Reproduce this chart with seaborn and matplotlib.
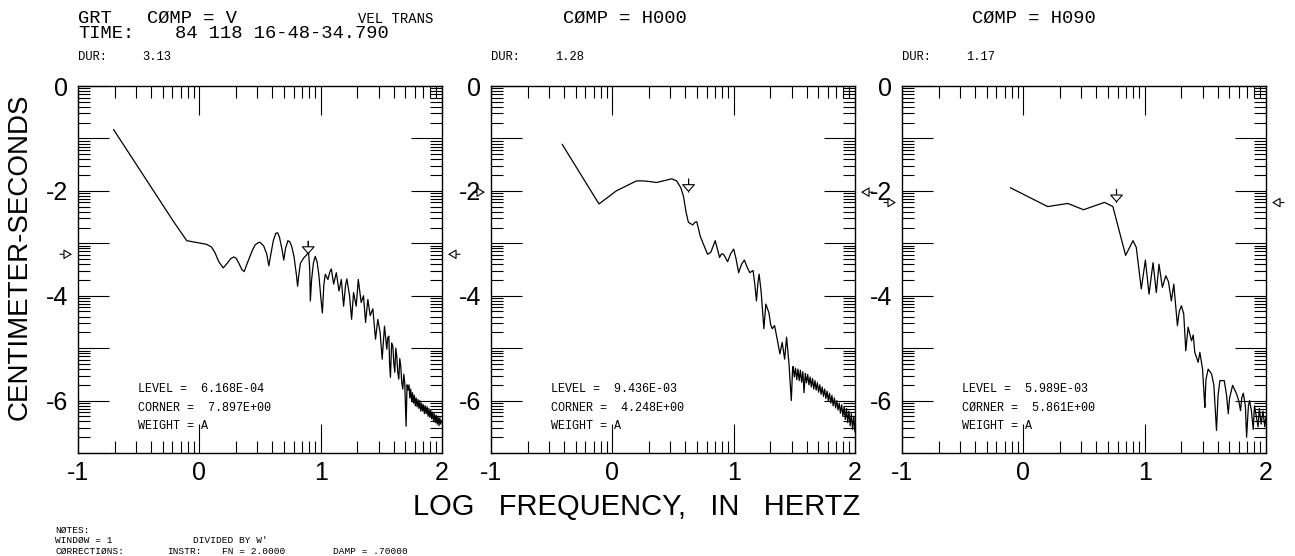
import numpy as np
import pandas as pd
import matplotlib
matplotlib.use("Agg")
import matplotlib.pyplot as plt
import seaborn as sns

# ---- spectra: (log10 frequency [Hz], log10 amplitude [cm*s]) ----
V_SPECTRUM = [
    (-0.707, -0.83), (-0.214, -2.58), (-0.104, -2.95), (0.06, -3.02), (0.10, -3.07),
    (0.129, -3.18), (0.16, -3.35), (0.197, -3.47), (0.23, -3.38), (0.26, -3.29),
    (0.285, -3.26), (0.305, -3.29), (0.33, -3.40), (0.35, -3.50), (0.37, -3.54),
    (0.40, -3.35), (0.44, -3.12), (0.46, -3.03), (0.485, -2.99), (0.50, -2.98),
    (0.53, -3.05), (0.555, -3.20), (0.573, -3.43), (0.59, -3.20), (0.61, -2.95),
    (0.63, -2.81), (0.645, -2.80), (0.66, -2.88), (0.68, -3.10), (0.696, -3.32),
    (0.71, -3.10), (0.73, -2.95), (0.745, -2.97), (0.76, -3.05), (0.78, -3.25),
    (0.80, -3.60), (0.81, -3.82), (0.82, -3.60), (0.833, -3.38), (0.86, -3.28),
    (0.885, -3.22), (0.90, -3.15), (0.91, -3.50), (0.915, -4.10), (0.925, -3.70),
    (0.94, -3.38), (0.955, -3.25), (0.97, -3.35), (0.985, -3.60), (1.00, -4.00),
    (1.014, -4.33), (1.026, -3.80), (1.038, -3.59), (1.06, -3.69), (1.075, -3.55),
    (1.088, -3.49), (1.107, -3.78), (1.129, -3.56), (1.151, -3.91), (1.17, -3.69),
    (1.189, -4.20), (1.205, -3.80), (1.216, -3.68), (1.238, -4.00), (1.255, -4.45),
    (1.271, -3.94), (1.293, -4.20), (1.31, -3.69), (1.334, -4.13), (1.353, -4.00),
    (1.37, -4.51), (1.389, -4.07), (1.408, -4.38), (1.43, -4.25), (1.452, -4.83),
    (1.471, -4.45), (1.49, -4.70), (1.507, -5.21), (1.526, -4.58), (1.545, -5.02),
    (1.553, -4.80), (1.562, -4.77), (1.568, -5.30), (1.575, -5.56), (1.585, -4.90),
    (1.595, -4.96), (1.603, -5.30), (1.611, -5.46), (1.619, -5.00), (1.627, -5.15),
    (1.635, -5.45), (1.644, -5.59), (1.652, -5.20), (1.66, -5.34), (1.668, -5.65),
    (1.677, -5.78), (1.685, -5.50), (1.693, -5.66), (1.704, -6.49), (1.712, -5.70),
    (1.72, -5.80), (1.728, -5.70), (1.735, -5.95), (1.742, -5.78), (1.75, -6.02),
    (1.757, -5.85), (1.765, -6.05), (1.772, -5.90), (1.78, -6.10), (1.787, -5.95),
    (1.795, -6.12), (1.802, -5.98), (1.81, -6.15), (1.817, -6.00), (1.825, -6.20),
    (1.832, -6.05), (1.84, -6.20), (1.847, -6.08), (1.855, -6.25), (1.862, -6.10),
    (1.87, -6.25), (1.877, -6.12), (1.885, -6.30), (1.892, -6.15), (1.90, -6.32),
    (1.907, -6.18), (1.915, -6.35), (1.922, -6.22), (1.93, -6.38), (1.937, -6.25),
    (1.945, -6.42), (1.952, -6.28), (1.96, -6.45), (1.967, -6.30), (1.975, -6.48),
    (1.982, -6.33), (1.99, -6.45), (1.997, -6.38),
]

H000_SPECTRUM = [
    (-0.414, -1.11), (-0.11, -2.25), (0.033, -2.00), (0.12, -1.90), (0.199, -1.81),
    (0.254, -1.81), (0.30, -1.82), (0.365, -1.84), (0.42, -1.81), (0.489, -1.77),
    (0.53, -1.81), (0.564, -1.94), (0.586, -2.10), (0.608, -2.41), (0.627, -2.60),
    (0.663, -2.65), (0.68, -2.60), (0.696, -2.59), (0.724, -2.86), (0.751, -3.02),
    (0.785, -3.21), (0.812, -3.17), (0.848, -2.95), (0.884, -3.27), (0.90, -3.20),
    (0.917, -3.21), (0.95, -3.35), (0.975, -3.20), (1.00, -3.11), (1.02, -3.30),
    (1.041, -3.56), (1.065, -3.40), (1.088, -3.32), (1.11, -3.45), (1.133, -3.56),
    (1.16, -3.52), (1.175, -3.80), (1.188, -4.10), (1.20, -3.75), (1.21, -3.59),
    (1.227, -3.94), (1.249, -4.63), (1.265, -4.16), (1.29, -4.32), (1.305, -4.55),
    (1.318, -4.63), (1.337, -4.57), (1.359, -4.83), (1.381, -5.11), (1.40, -4.89),
    (1.42, -5.21), (1.436, -4.79), (1.456, -5.30), (1.475, -6.00), (1.486, -5.37),
    (1.49, -5.35), (1.50, -5.55), (1.51, -5.38), (1.52, -5.60), (1.53, -5.40),
    (1.54, -5.62), (1.55, -5.42), (1.56, -5.65), (1.57, -5.45), (1.58, -5.85),
    (1.59, -5.48), (1.60, -5.66), (1.61, -5.50), (1.62, -5.70), (1.63, -5.55),
    (1.64, -5.74), (1.65, -5.58), (1.66, -5.78), (1.67, -5.62), (1.68, -5.80),
    (1.69, -5.66), (1.70, -5.84), (1.71, -5.70), (1.72, -5.88), (1.73, -5.74),
    (1.74, -5.92), (1.75, -5.78), (1.76, -5.96), (1.77, -5.82), (1.78, -6.00),
    (1.79, -5.86), (1.80, -6.05), (1.81, -5.90), (1.82, -6.10), (1.83, -5.95),
    (1.84, -6.14), (1.85, -6.00), (1.86, -6.18), (1.87, -6.05), (1.88, -6.24),
    (1.89, -6.08), (1.90, -6.30), (1.91, -6.12), (1.92, -6.36), (1.93, -6.15),
    (1.94, -6.42), (1.95, -6.20), (1.96, -6.48), (1.97, -6.25), (1.98, -6.55),
    (1.99, -6.30), (2.00, -6.60),
]

H090_SPECTRUM = [
    (-0.107, -1.94), (0.201, -2.30), (0.366, -2.24), (0.496, -2.36), (0.669, -2.22),
    (0.738, -2.30), (0.843, -3.23), (0.904, -2.95), (0.931, -3.08), (0.972, -3.87),
    (1.006, -3.32), (1.036, -3.97), (1.069, -3.37), (1.096, -3.94), (1.118, -3.40),
    (1.146, -3.84), (1.174, -3.62), (1.196, -3.73), (1.22, -4.10), (1.24, -3.78),
    (1.27, -4.57), (1.285, -4.30), (1.303, -4.19), (1.322, -4.35), (1.339, -5.05),
    (1.358, -4.60), (1.386, -4.86), (1.40, -4.75), (1.413, -5.08), (1.441, -5.27),
    (1.455, -5.08), (1.477, -5.40), (1.49, -5.90), (1.496, -6.13), (1.505, -5.60),
    (1.523, -5.40), (1.551, -5.49), (1.57, -5.70), (1.592, -6.57), (1.605, -5.90),
    (1.62, -5.62), (1.656, -5.62), (1.675, -5.90), (1.689, -6.25), (1.70, -5.95),
    (1.725, -5.71), (1.757, -5.87), (1.775, -6.00), (1.79, -6.19), (1.80, -5.95),
    (1.813, -5.86), (1.83, -6.10), (1.84, -6.70), (1.855, -6.10), (1.865, -6.00),
    (1.88, -6.20), (1.895, -6.55), (1.905, -6.10), (1.92, -6.30), (1.935, -6.50),
    (1.945, -6.15), (1.96, -6.45), (1.975, -6.20), (1.99, -6.50), (2.00, -6.30),
]

COMPONENTS = ["V", "H000", "H090"]
DURATIONS = ["3.13", "1.28", "1.17"]
LEVELS = [6.168e-04, 9.436e-03, 5.989e-03]
CORNERS = [7.897, 4.248, 5.861]
LEVEL_TEXT = ["6.168E-04", "9.436E-03", "5.989E-03"]
CORNER_TEXT = ["7.897E+00", "4.248E+00", "5.861E+00"]
CORNER_WORD = ["CORNER", "CORNER", "CØRNER"]
X_TICKS = [-1, 0, 1, 2]
X_TICK_LABELS = ["-1", "0", "1", "2"]
Y_TICKS = [0, -1, -2, -3, -4, -5, -6, -7]
Y_TICK_LABELS = ["0", "", "-2", "", "-4", "", "-6", ""]

SPECTRA = [V_SPECTRUM, H000_SPECTRUM, H090_SPECTRUM]

# ---- style ----
sns.set_theme(style="white")
plt.rcParams["font.family"] = ["Liberation Sans", "DejaVu Sans"]
plt.rcParams.update({
    "axes.edgecolor": "black",
    "text.color": "black",
    "xtick.color": "black",
    "ytick.color": "black",
    "axes.linewidth": 1.0,
})

W, H = 1295, 556
fig = plt.figure(figsize=(W / 100, H / 100), dpi=100)
fig.patch.set_facecolor("white")

MONO = ["Liberation Mono", "DejaVu Sans Mono"]


def ftext(x, y, s, **kw):
    kw.setdefault("family", MONO)
    fig.text(x / W, 1 - y / H, s, **kw)


PANEL_LEFT = [78, 491, 902]
PANEL_W = 364
TOP, BOTTOM = 86, 453

minor_x = [d + np.log10(k) for d in (-1, 0, 1) for k in range(2, 10)]
minor_y = [m + np.log10(k) for m in range(-7, 0) for k in range(2, 10)]

for i, left in enumerate(PANEL_LEFT):
    ax = fig.add_axes([left / W, 1 - BOTTOM / H, PANEL_W / W, (BOTTOM - TOP) / H])
    df = pd.DataFrame(SPECTRA[i], columns=["logf", "amp"])
    sns.lineplot(data=df, x="logf", y="amp", ax=ax, color="black",
                 linewidth=0.9, sort=False, estimator=None)
    ax.set_xlim(-1, 2)
    ax.set_ylim(-7, 0)
    ax.set_xlabel("")
    ax.set_ylabel("")
    ax.set_facecolor("white")
    for sp in ax.spines.values():
        sp.set_visible(True)
        sp.set_color("black")
        sp.set_linewidth(1.0)

    ax.set_xticks(X_TICKS)
    ax.set_xticklabels(X_TICK_LABELS)
    ax.set_xticks(minor_x, minor=True)
    ax.set_yticks(Y_TICKS)
    ax.set_yticklabels(Y_TICK_LABELS)
    ax.set_yticks(minor_y, minor=True)
    ax.tick_params(which="both", direction="in", top=True, right=True,
                   bottom=True, left=True, width=0.8, color="black")
    ax.tick_params(which="major", axis="x", length=21, labelsize=18, pad=6)
    ax.tick_params(which="major", axis="y", length=22, labelsize=18, pad=7)
    ax.tick_params(which="minor", length=8.5)

    lvl = np.log10(LEVELS[i])
    fc = np.log10(CORNERS[i])

    # level arrows on both sides of the frame
    for x_tip, x_tail in ((-6 / PANEL_W, -18 / PANEL_W), (1 + 6 / PANEL_W, 1 + 18 / PANEL_W)):
        ax.annotate("", xy=(x_tip, lvl), xytext=(x_tail, lvl),
                    xycoords=("axes fraction", "data"),
                    textcoords=("axes fraction", "data"),
                    arrowprops=dict(arrowstyle="-|>,head_length=0.5,head_width=0.3",
                                    fc="white", ec="black", lw=0.8,
                                    mutation_scale=10, shrinkA=0, shrinkB=0),
                    annotation_clip=False)
    # corner-frequency arrow
    ax.annotate("", xy=(fc, lvl), xytext=(fc, lvl + 0.25),
                arrowprops=dict(arrowstyle="-", color="black", lw=0.8,
                                shrinkA=0, shrinkB=0))
    ax.annotate("", xy=(fc, lvl), xytext=(fc, lvl + 0.25),
                arrowprops=dict(arrowstyle="-|>,head_length=0.4,head_width=0.35",
                                fc="white", ec="black", lw=0.8,
                                mutation_scale=12, shrinkA=0, shrinkB=0))

    # fit parameters
    ftext(left + 60, 389, f"LEVEL =  {LEVEL_TEXT[i]}", size=8.5, va="center")
    ftext(left + 60, 408, f"{CORNER_WORD[i]} =  {CORNER_TEXT[i]}", size=8.5, va="center")
    ftext(left + 60, 426, "WEIGHT = A", size=8.5, va="center")

    # duration
    ftext(left, 60, "DUR:", size=8.7, va="baseline")
    ftext(left + 64, 60, DURATIONS[i], size=8.7, va="baseline")

# header
ftext(78, 23, "GRT", size=13.5, va="baseline")
ftext(147, 23, f"CØMP = {COMPONENTS[0]}", size=13.5, va="baseline")
ftext(358, 23, "VEL TRANS", size=10, va="baseline")
ftext(78, 38, "TIME:", size=13.5, va="baseline")
ftext(175, 38, "84 118 16-48-34.790", size=13.5, va="baseline")
ftext(563, 23, f"CØMP = {COMPONENTS[1]}", size=13.5, va="baseline")
ftext(972, 23, f"CØMP = {COMPONENTS[2]}", size=13.5, va="baseline")

# axis titles
ftext(413, 507, "LOG   FREQUENCY,   IN   HERTZ", family=["Liberation Sans"],
      size=21, va="center", ha="left")
ftext(20, 257, "CENTIMETER-SECONDS", family=["Liberation Sans"], size=20,
      rotation=90, va="center", ha="center")

# processing notes
NOTE_SIZE = 6.8
ftext(55, 530, "NØTES:", size=NOTE_SIZE, va="center")
ftext(55, 540.5, "WINDØW = 1", size=NOTE_SIZE, va="center")
ftext(193, 540.5, "DIVIDED BY W'", size=NOTE_SIZE, va="center")
ftext(55, 551, "CØRRECTIØNS:", size=NOTE_SIZE, va="center")
ftext(167, 551, "INSTR:", size=NOTE_SIZE, va="center")
ftext(222, 551, "FN = 2.0000", size=NOTE_SIZE, va="center")
ftext(333, 551, "DAMP = .70000", size=NOTE_SIZE, va="center")

fig.savefig("out.png", dpi=100, facecolor="white")
